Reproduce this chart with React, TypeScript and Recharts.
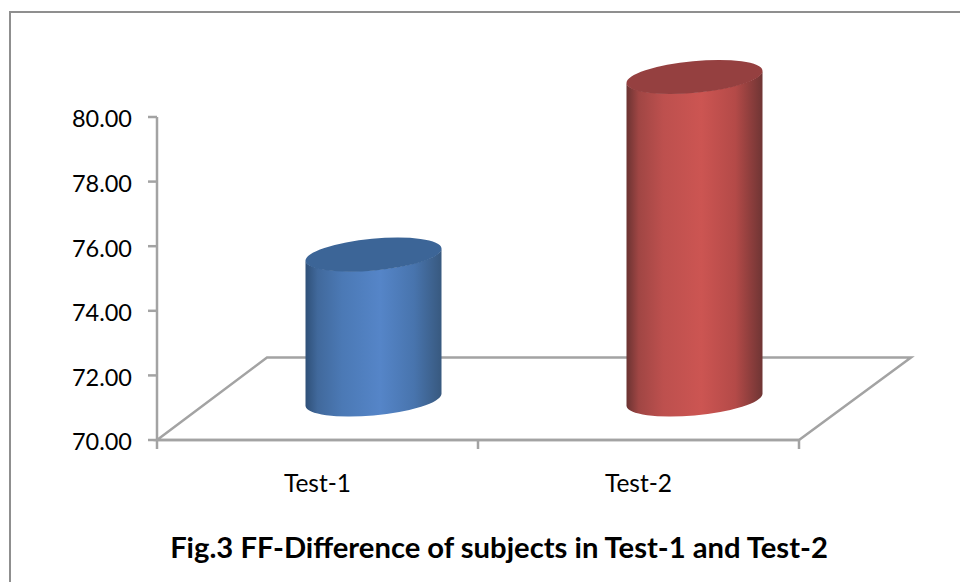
import React from "react";
import { BarChart, Bar, XAxis, YAxis } from "recharts";

const categories = ["Test-1", "Test-2"];
const values = [74.5, 80.0];
const yTicks = [70, 72, 74, 76, 78, 80];
const seriesStyles = [
  { id: "cylBlue", stops: ["#2f5078", "#41699c", "#4b79b5", "#5585c8", "#4874ad", "#38597f"], top: "#3c6597" },
  { id: "cylRed", stops: ["#6b3332", "#a04644", "#bd504e", "#cc5552", "#b44a48", "#6f3534"], top: "#954040" },
];
const stopOffsets = ["0%", "9%", "27%", "55%", "80%", "100%"];
const chartTitle = "Fig.3 FF-Difference of subjects in Test-1 and Test-2";

const WIDTH = 960;
const HEIGHT = 582;
const FONT = "Lato, Carlito, sans-serif";
const AXIS_COLOR = "#a3a3a3";

// plot area, everything 3D is offset from it
const LEFT = 157;
const RIGHT = 799;
const TOP = 117;
const BOTTOM = 440;
const DEPTH_X = 55.5;
const DEPTH_Y = 40;

// Fake-3D cylinder: side wall + tilted top ellipse
const Cylinder = (props: any) => {
  const { x, y, width, height, index } = props;
  const st = seriesStyles[index];
  const cx = x + width / 2 + DEPTH_X;
  const top = y - DEPTH_Y;
  const bottom = y + height - DEPTH_Y;
  const half = width / 2;
  const rx = half + 0.3;
  const ry = 15.9;
  const tilt = -5.3;
  const side =
    `M${cx - half},${top + 6} L${cx - half},${bottom + 6} ` +
    `A${rx},${ry} ${tilt} 0 0 ${cx + half},${bottom - 6} ` +
    `L${cx + half},${top - 6} ` +
    `A${rx},${ry} ${tilt} 0 1 ${cx - half},${top + 6} Z`;
  return (
    <g>
      <path d={side} fill={`url(#${st.id})`} />
      <ellipse
        cx={cx}
        cy={top}
        rx={rx}
        ry={ry}
        fill={st.top}
        transform={`rotate(${tilt} ${cx} ${top})`}
      />
    </g>
  );
};

// Floor of the 3D chart plus the x ticks, which sit between categories
const Floor = () => {
  const step = (RIGHT - LEFT) / categories.length;
  const ticks = [0, 1, 2].map((i) => LEFT + i * step);
  return (
    <g fill="none" stroke={AXIS_COLOR} strokeWidth={2.5}>
      <path d={`M${LEFT},${BOTTOM} L267,357.5 L911,357.5 L${RIGHT},${BOTTOM} Z`} />
      {ticks.map((t) => (
        <line key={t} x1={t} x2={t} y1={BOTTOM} y2={BOTTOM + 9} />
      ))}
    </g>
  );
};

const Gradients = () => (
  <defs>
    {seriesStyles.map((s) => (
      <linearGradient key={s.id} id={s.id} x1="0" y1="0" x2="1" y2="0">
        {s.stops.map((c, i) => (
          <stop key={i} offset={stopOffsets[i]} stopColor={c} />
        ))}
      </linearGradient>
    ))}
  </defs>
);

const data = categories.map((name, i) => ({ name, value: values[i] }));

export default function App() {
  return (
    <div style={{ position: "absolute", left: 0, top: 0, width: WIDTH, height: HEIGHT, overflow: "hidden", background: "#fff" }}>
      <div
        style={{
          position: "absolute",
          left: 9,
          top: 11,
          width: WIDTH,
          height: HEIGHT,
          borderLeft: "2.5px solid #8f8f8f",
          borderTop: "2.5px solid #8f8f8f",
        }}
      />
      <BarChart
        width={WIDTH}
        height={HEIGHT}
        data={data}
        margin={{ top: TOP, right: WIDTH - RIGHT, left: 0, bottom: 0 }}
        style={{ position: "absolute", left: 0, top: 0 }}
      >
        <Gradients />
        <Floor />
        <XAxis
          dataKey="name"
          height={HEIGHT - BOTTOM}
          stroke={AXIS_COLOR}
          strokeWidth={2.5}
          tickLine={false}
          tickMargin={29}
          tick={{ fill: "#000", fontSize: 24.5, fontFamily: FONT }}
        />
        <YAxis
          width={LEFT}
          domain={[70, 80]}
          ticks={yTicks}
          interval={0}
          tickFormatter={(v: number) => v.toFixed(2)}
          stroke={AXIS_COLOR}
          strokeWidth={2.5}
          tickSize={9}
          tickMargin={16}
          tick={{ fill: "#000", fontSize: 23.5, fontFamily: FONT, dy: 2 }}
        />
        <Bar dataKey="value" barSize={136} shape={Cylinder} isAnimationActive={false} />
        <text x={499} y={558} textAnchor="middle" fontFamily={FONT} fontWeight={700} fontSize={29.2} fill="#000">
          {chartTitle}
        </text>
      </BarChart>
    </div>
  );
}
